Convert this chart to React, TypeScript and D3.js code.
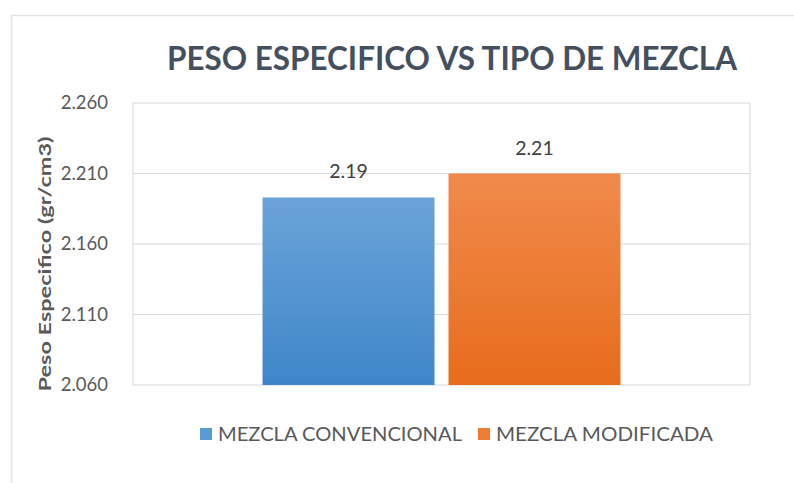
import React from "react";
import * as d3 from "d3";

const title = "PESO ESPECIFICO VS TIPO DE MEZCLA";
const yAxisTitle = "Peso Especifico  (gr/cm3)";
const categories = [""];
const seriesNames = ["MEZCLA CONVENCIONAL", "MEZCLA MODIFICADA"];
const seriesValues = [2.193, 2.21];
const valueLabels = ["2.19", "2.21"];
const yTicks = [2.06, 2.11, 2.16, 2.21, 2.26];

const W = 794;
const H = 483;
const plot = { left: 133, right: 750, top: 103, bottom: 385 };
const font = "Lato, 'Open Sans', 'DejaVu Sans', sans-serif";

export default function App() {
  const y = d3.scaleLinear().domain([2.06, 2.26]).range([plot.bottom, plot.top]);
  const x0 = d3.scaleBand<string>().domain(categories).range([plot.left, plot.right]).padding(0.2657);
  const x1 = d3
    .scaleBand<string>()
    .domain(seriesNames)
    .range([0, x0.bandwidth()])
    .paddingInner(0.0753)
    .paddingOuter(0);
  const fills = ["url(#gBlue)", "url(#gOrange)"];
  const legendColors = ["#5b9bd5", "#ed7d31"];
  const legendX = [200, 478];
  const legendTextLen = [244, 217];

  return (
    <svg
      width={W}
      height={H}
      style={{ position: "absolute", left: 0, top: 0, background: "#fff" }}
      fontFamily={font}
    >
      <defs>
        <linearGradient id="gBlue" x1="0" y1="0" x2="0" y2="1">
          <stop offset="0%" stopColor="#6ba3d9" />
          <stop offset="100%" stopColor="#3f86c9" />
        </linearGradient>
        <linearGradient id="gOrange" x1="0" y1="0" x2="0" y2="1">
          <stop offset="0%" stopColor="#f08a4c" />
          <stop offset="100%" stopColor="#e86c1c" />
        </linearGradient>
      </defs>
      <rect x={0} y={0} width={W} height={H} fill="#fff" />
      {/* chart frame */}
      <line x1={11} x2={W} y1={15.5} y2={15.5} stroke="#e3e3e3" strokeWidth={1.5} />
      <line x1={11.5} x2={11.5} y1={15} y2={H} stroke="#e3e3e3" strokeWidth={1.5} />

      <text
        x={167}
        y={70}
        fontSize={32}
        fontWeight="bold"
        fill="#44505f"
        textLength={570}
        lengthAdjust="spacingAndGlyphs"
      >
        {title}
      </text>

      {/* gridlines */}
      {yTicks.map((t) => (
        <line
          key={t}
          x1={plot.left}
          x2={plot.right}
          y1={y(t)}
          y2={y(t)}
          stroke="#d9d9d9"
          strokeWidth={1}
        />
      ))}
      <line x1={plot.left} x2={plot.left} y1={plot.top} y2={plot.bottom} stroke="#d9d9d9" />
      <line x1={plot.right} x2={plot.right} y1={plot.top} y2={plot.bottom} stroke="#d9d9d9" />

      {/* tick labels */}
      {yTicks.map((t) => (
        <text
          key={t}
          x={108}
          y={y(t)}
          dy="0.35em"
          textAnchor="end"
          fontSize={18.5}
          fill="#595959"
        >
          {d3.format(".3f")(t)}
        </text>
      ))}

      <text
        transform={`translate(51, ${264}) rotate(-90)`}
        textAnchor="middle"
        fontSize={17}
        fontWeight="bold"
        fill="#595959"
        textLength={255}
        lengthAdjust="spacingAndGlyphs"
      >
        {yAxisTitle}
      </text>

      {/* bars */}
      {categories.map((c) => (
        <g key={c} transform={`translate(${x0(c)},0)`}>
          {seriesNames.map((s, i) => (
            <g key={s}>
              <rect
                x={x1(s)}
                y={y(seriesValues[i])}
                width={x1.bandwidth()}
                height={plot.bottom - y(seriesValues[i])}
                fill={fills[i]}
              />
              <text
                x={(x1(s) as number) + x1.bandwidth() / 2}
                y={y(seriesValues[i]) - 19}
                textAnchor="middle"
                fontSize={19.5}
                fill="#404040"
              >
                {valueLabels[i]}
              </text>
            </g>
          ))}
        </g>
      ))}

      {/* legend */}
      {seriesNames.map((s, i) => (
        <g key={s}>
          <rect x={legendX[i]} y={428} width={12} height={12} fill={legendColors[i]} />
          <text
            x={legendX[i] + 18}
            y={441}
            fontSize={19.5}
            fill="#595959"
            textLength={legendTextLen[i]}
            lengthAdjust="spacingAndGlyphs"
          >
            {s}
          </text>
        </g>
      ))}
    </svg>
  );
}
